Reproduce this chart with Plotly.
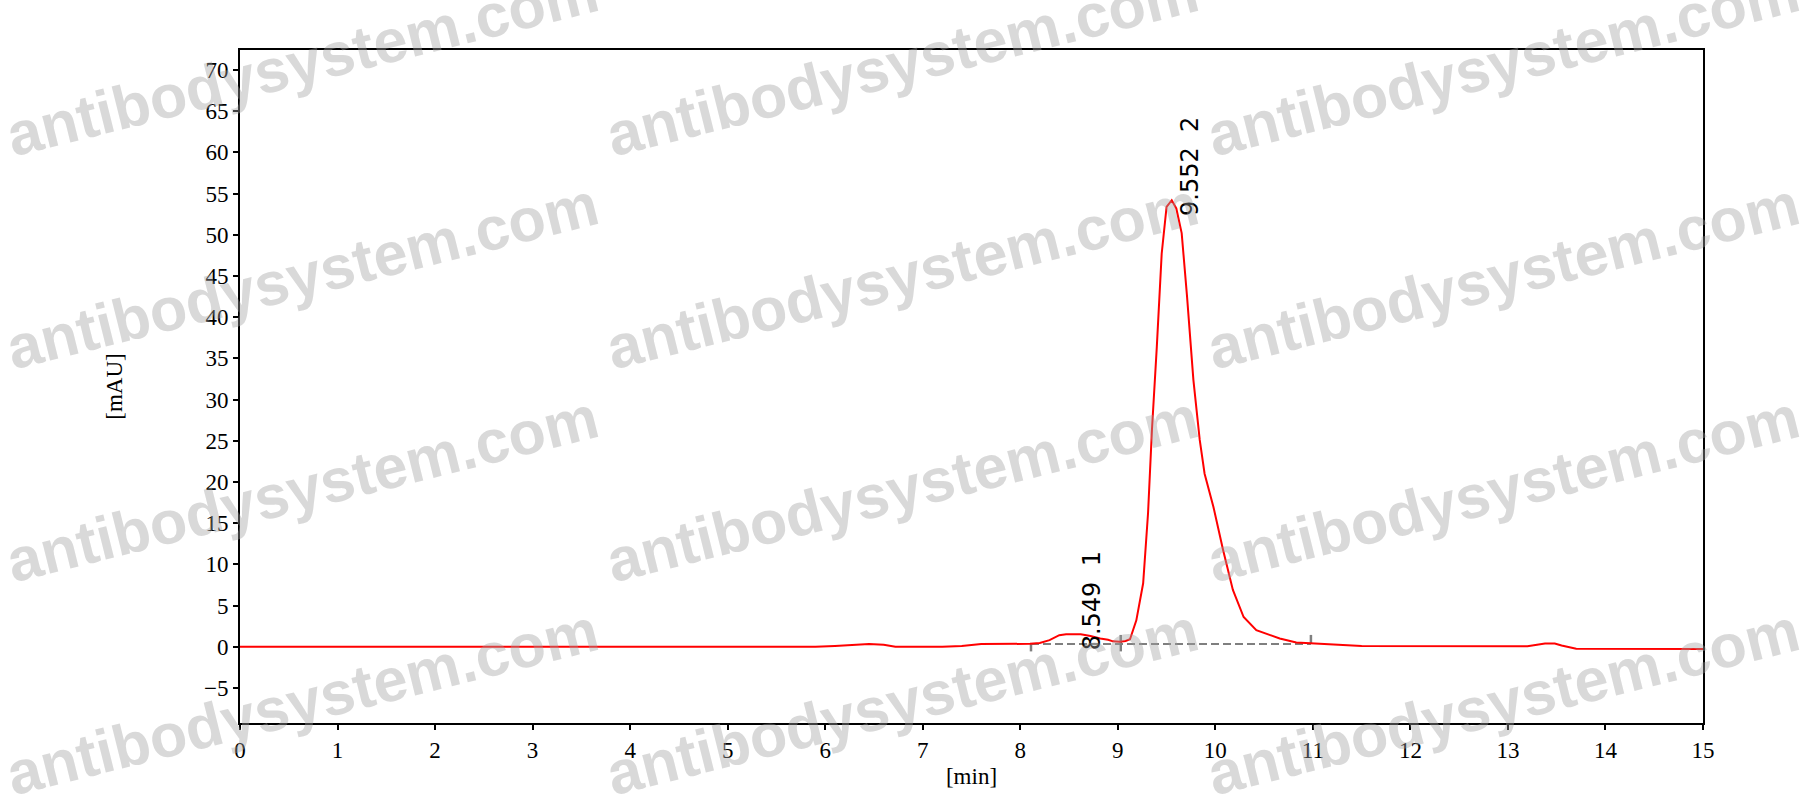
import plotly.graph_objects as go

# chromatogram trace (time in min, signal in mAU)
time_min = [0, 5.9, 6.1, 6.3, 6.45, 6.6, 6.72, 7.2, 7.4, 7.6, 8.1, 8.2, 8.3, 8.4, 8.47,
            8.62, 8.72, 8.82, 8.9, 8.95, 9.02, 9.08, 9.125, 9.19, 9.26, 9.31, 9.35,
            9.40, 9.45, 9.50, 9.553, 9.60, 9.655, 9.71, 9.775, 9.84, 9.89, 9.98,
            10.08, 10.18, 10.29, 10.42, 10.66, 10.83, 11.0, 11.3, 11.5, 13.2, 13.3,
            13.38, 13.48, 13.55, 13.7, 15]
signal_mau = [0, 0, 0.1, 0.25, 0.33, 0.25, 0.0, 0.0, 0.1, 0.33, 0.35, 0.45, 0.8, 1.4, 1.5,
              1.5, 1.3, 1.0, 0.85, 0.65, 0.6, 0.7, 0.9, 3.2, 7.7, 16.2, 26.3,
              36.4, 47.7, 53.4, 54.2, 53.2, 50.2, 42.5, 32.4, 25.1, 21.0, 17.0,
              11.7, 6.9, 3.6, 2.0, 1.0, 0.5, 0.4, 0.3, 0.1, 0.05, 0.2,
              0.4, 0.4, 0.15, -0.25, -0.28]

# integrated peaks
peak_times = [8.549, 9.552]
peak_heights = [1.5, 54.2]
peak_ids = ["1", "2"]

# integration baseline (start, split, end)
baseline_x = [8.11, 9.03, 10.98]
baseline_y = 0.33

x_ticks = list(range(0, 16))
y_ticks = list(range(-5, 75, 5))

fig = go.Figure()

# dashed baseline
fig.add_trace(go.Scatter(
    x=[baseline_x[0], baseline_x[-1]], y=[baseline_y, baseline_y],
    mode="lines", line=dict(color="#7f7f7f", width=2, dash="8px,4px"),
    hoverinfo="skip", showlegend=False))

# small marks at start / split / end of integration
mark_x, mark_y = [], []
for i, bx in enumerate(baseline_x):
    lo = baseline_y - 0.9 if i < 2 else baseline_y
    hi = baseline_y + 1.1 if i > 0 else baseline_y
    mark_x += [bx, bx, None]
    mark_y += [lo, hi, None]
fig.add_trace(go.Scatter(
    x=mark_x, y=mark_y, mode="lines",
    line=dict(color="#7f7f7f", width=2.5), hoverinfo="skip", showlegend=False))

fig.add_trace(go.Scatter(
    x=time_min, y=signal_mau, mode="lines",
    line=dict(color="#ff0000", width=2), name="signal", showlegend=False))

# peak labels, rotated
for t, h, pid in zip(peak_times, peak_heights, peak_ids):
    fig.add_annotation(
        x=t + 0.19, y=h - 2.2, xref="x", yref="y",
        text=f"{t:.3f}  {pid}", textangle=-90, showarrow=False,
        xanchor="center", yanchor="bottom",
        font=dict(family="DejaVu Sans", size=24, color="black"))

# watermark grid
wm_cols = [0.0424, 0.4525, 0.8633]
wm_rows = [0.9807, 0.6642, 0.3477, 0.0312]
for wy in wm_rows:
    for wx in wm_cols:
        fig.add_annotation(
            x=wx, y=wy, xref="paper", yref="paper",
            text="<b>antibodysystem.com</b>", textangle=-14, showarrow=False,
            xanchor="center", yanchor="middle",
            font=dict(family="Liberation Sans", size=61, color="rgba(160,160,160,0.4)"))

axis_font = dict(family="Liberation Serif", size=23, color="black")

fig.update_xaxes(
    range=[0, 15], tickvals=x_ticks, ticks="outside", ticklen=5, tickwidth=1.5,
    tickcolor="black", showline=True, linecolor="black", linewidth=2, mirror=True,
    showgrid=False, zeroline=False, tickfont=axis_font,
    title=dict(text="[min]", font=axis_font, standoff=6))
fig.update_yaxes(
    range=[-9.26, 72.43], tickvals=y_ticks, ticks="outside", ticklen=5, tickwidth=1.5,
    tickcolor="black", showline=True, linecolor="black", linewidth=2, mirror=True,
    showgrid=False, zeroline=False, tickfont=axis_font,
    title=dict(text="[mAU]", font=axis_font, standoff=75))

fig.update_layout(
    width=1812, height=805,
    margin=dict(l=240, r=109, t=50, b=82),
    plot_bgcolor="white", paper_bgcolor="white",
    showlegend=False)

fig.write_html("out.html", config={"displayModeBar": False},
               post_script="document.body.style.margin='0';")
